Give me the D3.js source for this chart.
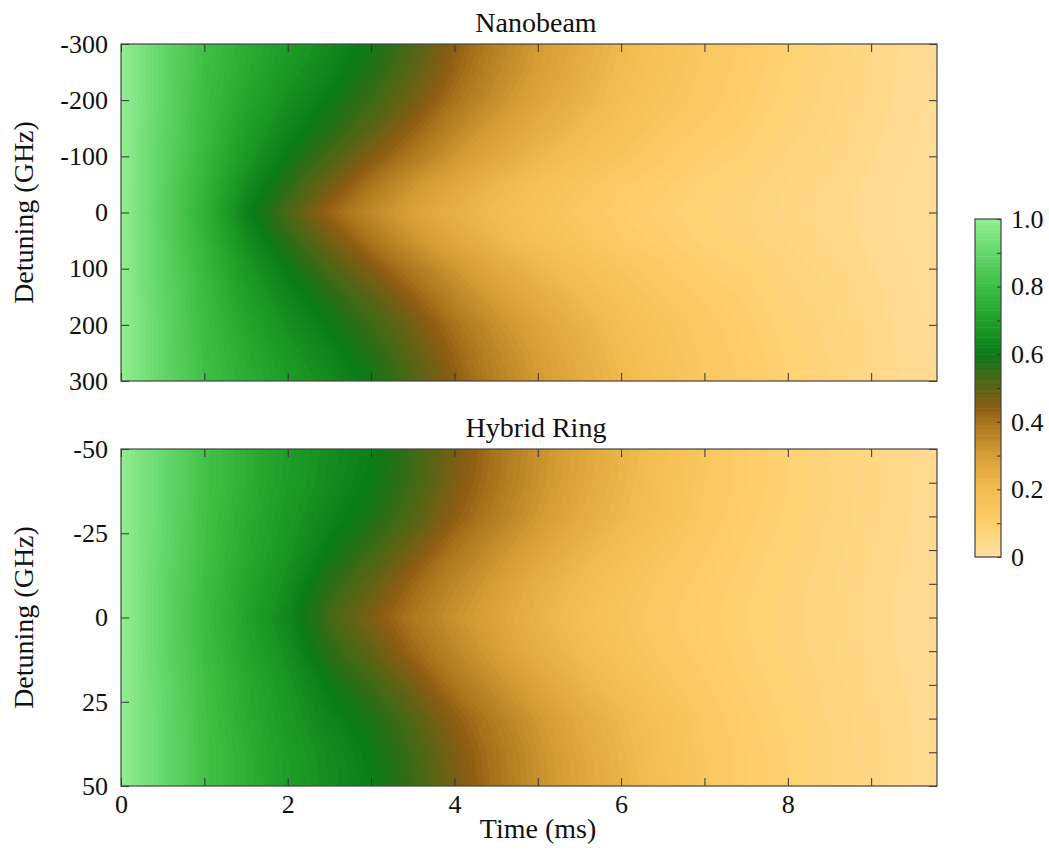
<!DOCTYPE html>
<html>
<head>
<meta charset="utf-8">
<script src="https://cdn.jsdelivr.net/npm/d3@7"></script>
<style>
  body { margin: 0; background: #fff; }
  .tick line { stroke: #333; stroke-width: 1; }
</style>
</head>
<body>
<div id="chart"></div>
<script>
// time columns (ms), shared by both maps
const times = [0, 0.5, 1, 1.5, 2, 2.5, 3, 3.5, 4, 4.5, 5, 5.5, 6, 6.5, 7, 7.5, 8, 8.5, 9, 9.5, 10];

// Nanobeam: one row per detuning (GHz)
const nanoDetuning = [-300, -250, -200, -150, -100, -50, 0, 50, 100, 150, 200, 250, 300];
const nb0   = [1.00, 0.88, 0.76, 0.62, 0.52, 0.425, 0.35, 0.29, 0.24, 0.20, 0.165, 0.135, 0.11, 0.095, 0.08, 0.07, 0.055, 0.045, 0.035, 0.025, 0.015];
const nb50  = [1.00, 0.885, 0.77, 0.65, 0.56, 0.475, 0.395, 0.325, 0.27, 0.22, 0.18, 0.15, 0.122, 0.104, 0.087, 0.075, 0.059, 0.048, 0.037, 0.026, 0.016];
const nb100 = [1.00, 0.89, 0.785, 0.68, 0.60, 0.525, 0.455, 0.385, 0.32, 0.265, 0.22, 0.18, 0.15, 0.125, 0.10, 0.087, 0.068, 0.055, 0.041, 0.029, 0.019];
const nb150 = [1.00, 0.895, 0.795, 0.70, 0.63, 0.57, 0.505, 0.433, 0.36, 0.30, 0.25, 0.21, 0.17, 0.14, 0.116, 0.097, 0.076, 0.06, 0.044, 0.031, 0.021];
const nb200 = [1.00, 0.90, 0.80, 0.72, 0.655, 0.60, 0.54, 0.475, 0.40, 0.335, 0.28, 0.235, 0.19, 0.155, 0.13, 0.105, 0.083, 0.065, 0.047, 0.033, 0.023];
const nb250 = [1.00, 0.90, 0.805, 0.735, 0.675, 0.625, 0.57, 0.50, 0.425, 0.355, 0.30, 0.25, 0.20, 0.165, 0.135, 0.11, 0.087, 0.068, 0.049, 0.034, 0.024];
const nb300 = [1.00, 0.90, 0.81, 0.745, 0.69, 0.645, 0.59, 0.52, 0.44, 0.37, 0.31, 0.26, 0.21, 0.17, 0.14, 0.115, 0.09, 0.07, 0.05, 0.035, 0.025];
const nanoRows = [nb300, nb250, nb200, nb150, nb100, nb50, nb0, nb50, nb100, nb150, nb200, nb250, nb300];

// Hybrid ring
const ringDetuning = [-50, -40, -30, -20, -10, 0, 10, 20, 30, 40, 50];
const hr0  = [1.00, 0.90, 0.80, 0.71, 0.63, 0.53, 0.46, 0.39, 0.33, 0.28, 0.23, 0.19, 0.155, 0.125, 0.105, 0.09, 0.075, 0.06, 0.045, 0.035, 0.025];
const hr10 = [1.00, 0.90, 0.805, 0.72, 0.65, 0.56, 0.495, 0.42, 0.355, 0.30, 0.245, 0.205, 0.165, 0.134, 0.111, 0.093, 0.077, 0.062, 0.047, 0.035, 0.025];
const hr20 = [1.00, 0.905, 0.81, 0.735, 0.67, 0.60, 0.54, 0.47, 0.395, 0.335, 0.28, 0.23, 0.19, 0.15, 0.122, 0.099, 0.082, 0.065, 0.05, 0.037, 0.027];
const hr30 = [1.00, 0.91, 0.815, 0.74, 0.68, 0.625, 0.58, 0.515, 0.44, 0.375, 0.315, 0.26, 0.215, 0.175, 0.135, 0.105, 0.087, 0.068, 0.053, 0.039, 0.029];
const hr40 = [1.00, 0.91, 0.82, 0.75, 0.69, 0.645, 0.60, 0.535, 0.46, 0.395, 0.33, 0.275, 0.225, 0.18, 0.14, 0.11, 0.09, 0.07, 0.054, 0.04, 0.03];
const hr50 = [1.00, 0.91, 0.82, 0.75, 0.695, 0.65, 0.61, 0.545, 0.47, 0.40, 0.335, 0.28, 0.23, 0.185, 0.145, 0.11, 0.09, 0.07, 0.055, 0.04, 0.03];
const ringRows = [hr50, hr40, hr30, hr20, hr10, hr0, hr10, hr20, hr30, hr40, hr50];

// colour map stops
const levelStops  = [0, 0.1, 0.2, 0.3, 0.4, 0.44, 0.5, 0.55, 0.6, 0.7, 0.8, 0.9, 1.0];
const levelColors = ["#ffe0a3", "#ffcf6c", "#f3bc4f", "#d79f35", "#a8741c", "#8d5c12",
                     "#5d6414", "#346c16", "#0b7a17", "#20a028", "#3dbd42", "#64d66a", "#92ee92"];

// ticks
const timeTicks = [0, 1, 2, 3, 4, 5, 6, 7, 8, 9];
const timeLabels = [0, 2, 4, 6, 8];
const nanoTicks = [-300, -200, -100, 0, 100, 200, 300];
const ringTicks = [-50, -25, 0, 25, 50];
const ringRightTicks = [-50, -40, -30, -20, -10, 0, 10, 20, 30, 40, 50];
const barTicks = [0, 0.1, 0.2, 0.3, 0.4, 0.5, 0.6, 0.7, 0.8, 0.9, 1.0];
const barLabels = [0, 0.2, 0.4, 0.6, 0.8, 1.0];

const width = 1049, height = 852;
const plotLeft = 121, plotRight = 937;
const serif = "'Liberation Serif', 'DejaVu Serif', serif";

const svg = d3.select("#chart").append("svg")
  .attr("width", width)
  .attr("height", height)
  .attr("font-family", serif)
  .attr("font-size", 26);

const x = d3.scaleLinear().domain([0, 9.79]).range([plotLeft, plotRight]);

const color = d3.scaleLinear()
  .domain(levelStops)
  .range(levelColors)
  .interpolate(d3.interpolateRgb)
  .clamp(true);

const levels = d3.range(0, 100).map(i => i / 100);

const panels = [
  { title: "Nanobeam", top: 44, bottom: 381, det: nanoDetuning, rows: nanoRows,
    leftTicks: nanoTicks, rightTicks: nanoTicks, xLabels: false },
  { title: "Hybrid Ring", top: 449, bottom: 786, det: ringDetuning, rows: ringRows,
    leftTicks: ringTicks, rightTicks: ringRightTicks, xLabels: true }
];

function cleanAxis(g) {
  g.attr("font-family", serif).attr("font-size", 26);
  g.select(".domain").remove();
  g.selectAll("text").attr("fill", "#111");
}

function label(sel) {
  return sel.attr("font-size", 28).attr("fill", "#111");
}

panels.forEach((p, k) => {
  const y = d3.scaleLinear()
    .domain([p.det[0], p.det[p.det.length - 1]])
    .range([p.top, p.bottom]);

  const nx = times.length, ny = p.det.length;
  const dt = times[1] - times[0];
  const dd = p.det[1] - p.det[0];

  const contours = d3.contours()
    .size([nx, ny])
    .thresholds(levels)(p.rows.flat());

  // grid cell centres sit at (i + 0.5, j + 0.5) in contour space
  const proj = d3.geoTransform({
    point(px, py) {
      this.stream.point(x(times[0] + (px - 0.5) * dt), y(p.det[0] + (py - 0.5) * dd));
    }
  });
  const path = d3.geoPath(proj);

  svg.append("clipPath").attr("id", "clip" + k)
    .append("rect")
    .attr("x", plotLeft).attr("y", p.top)
    .attr("width", plotRight - plotLeft).attr("height", p.bottom - p.top);

  svg.append("g")
    .attr("clip-path", `url(#clip${k})`)
    .selectAll("path")
    .data(contours)
    .join("path")
    .attr("d", path)
    .attr("fill", d => color(d.value + 0.005));

  // axes (ticks pointing inward)
  svg.append("g")
    .attr("transform", `translate(${plotLeft},0)`)
    .call(d3.axisLeft(y).tickValues(p.leftTicks).tickSize(-8).tickPadding(13).tickFormat(d => String(d)))
    .call(cleanAxis);

  svg.append("g")
    .attr("transform", `translate(${plotRight},0)`)
    .call(d3.axisRight(y).tickValues(p.rightTicks).tickSize(-8).tickFormat(""))
    .call(cleanAxis);

  svg.append("g")
    .attr("transform", `translate(0,${p.top})`)
    .call(d3.axisTop(x).tickValues(timeTicks).tickSize(-8).tickFormat(""))
    .call(cleanAxis);

  svg.append("g")
    .attr("transform", `translate(0,${p.bottom})`)
    .call(d3.axisBottom(x).tickValues(timeTicks).tickSize(-8).tickPadding(9)
      .tickFormat(d => p.xLabels && timeLabels.includes(d) ? String(d) : ""))
    .call(cleanAxis);

  svg.append("rect")
    .attr("x", plotLeft).attr("y", p.top)
    .attr("width", plotRight - plotLeft).attr("height", p.bottom - p.top)
    .attr("fill", "none")
    .attr("stroke", "#444")
    .attr("stroke-width", 1.2);

  svg.append("text")
    .attr("x", 536)
    .attr("y", p.top - 12)
    .attr("text-anchor", "middle")
    .call(label)
    .text(p.title);

  svg.append("text")
    .attr("transform", `translate(33,${(p.top + p.bottom) / 2}) rotate(-90)`)
    .attr("text-anchor", "middle")
    .call(label)
    .text("Detuning (GHz)");
});

svg.append("text")
  .attr("x", 538)
  .attr("y", 838)
  .attr("text-anchor", "middle")
  .call(label)
  .text("Time (ms)");

// colour bar
const barX = 975, barW = 26;
const cb = d3.scaleLinear().domain([0, 1]).range([557, 219]);

svg.append("g")
  .selectAll("rect")
  .data(levels)
  .join("rect")
  .attr("x", barX)
  .attr("y", d => cb(d + 0.01))
  .attr("width", barW)
  .attr("height", d => cb(d) - cb(d + 0.01) + 0.5)
  .attr("fill", d => color(d + 0.005));

svg.append("g")
  .attr("transform", `translate(${barX + barW},0)`)
  .call(d3.axisRight(cb).tickValues(barTicks).tickSize(-4).tickFormat(""))
  .call(cleanAxis);

svg.append("g")
  .attr("transform", `translate(${barX + barW},0)`)
  .call(d3.axisRight(cb).tickValues(barLabels).tickSize(0).tickPadding(10)
    .tickFormat(d => d === 0 ? "0" : d.toFixed(1)))
  .call(cleanAxis);

svg.append("rect")
  .attr("x", barX).attr("y", 219)
  .attr("width", barW).attr("height", 557 - 219)
  .attr("fill", "none")
  .attr("stroke", "#444")
  .attr("stroke-width", 1.2);
</script>
</body>
</html>
